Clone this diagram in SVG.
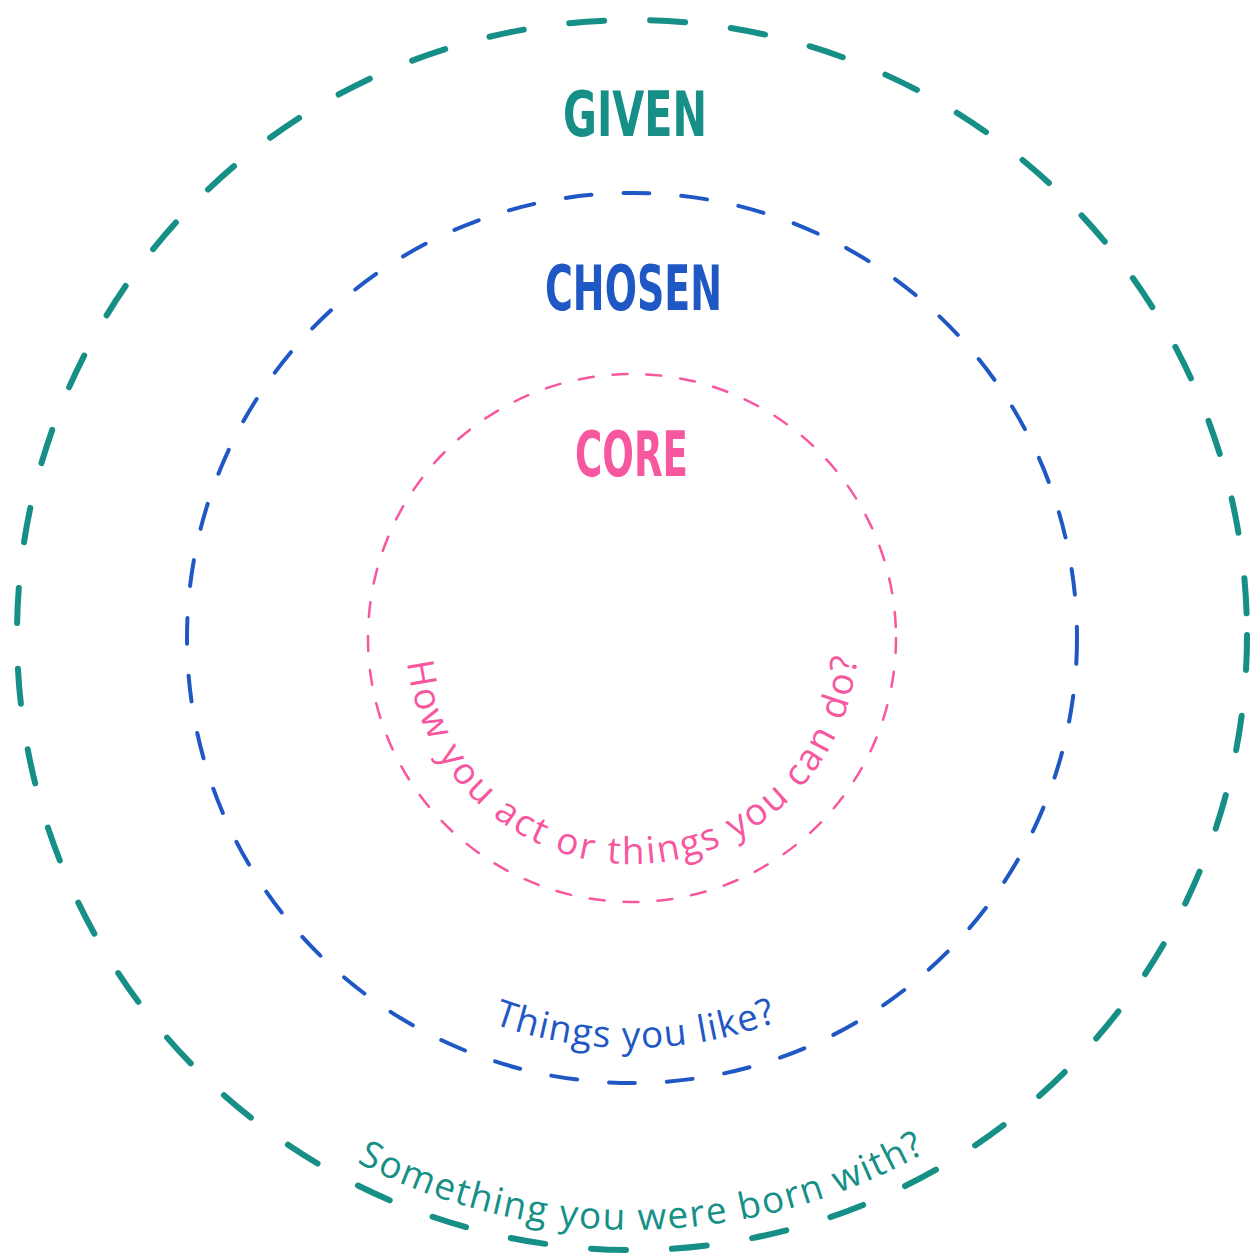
<svg xmlns="http://www.w3.org/2000/svg" width="1256" height="1254" viewBox="0 0 1256 1254">
  <style>
    .ring { fill: none; stroke-linecap: round; }
    .given { stroke: #168f87; stroke-width: 6; stroke-dasharray: 35 46; }
    .chosen { stroke: #1f58c4; stroke-width: 4; stroke-dasharray: 26 32; }
    .core { stroke: #f7579e; stroke-width: 2.5; stroke-dasharray: 15 19; }
    .title { font-family: "Liberation Sans Narrow", "DejaVu Sans Condensed", "Liberation Sans", sans-serif; font-weight: bold; font-size: 62px; }
    .label { font-family: "Open Sans", "Noto Sans", "Liberation Sans", sans-serif; font-size: 37px; letter-spacing: 1.3px; }
    .l-core { letter-spacing: 2.4px; }
    .l-given { letter-spacing: 1.7px; }
  </style>
  <defs>
    <path id="pGiven" d="M 37 635 A 595 595 0 0 0 1227 635"/>
    <path id="pChosen" d="M 222 638 A 410 410 0 0 0 1042 638"/>
    <path id="pCore" d="M 406 638 A 226 226 0 0 0 858 638"/>
  </defs>
  <rect width="1256" height="1254" fill="#ffffff"/>
  <g id="given">
    <circle class="ring given" cx="632" cy="635" r="615"/>
    <text class="title" x="563" y="136" fill="#168f87" textLength="144" lengthAdjust="spacingAndGlyphs">GIVEN</text>
    <text class="label l-given" fill="#168f87"><textPath href="#pGiven" startOffset="50.6%" text-anchor="middle">Something you were born with?</textPath></text>
  </g>
  <g id="chosen">
    <circle class="ring chosen" cx="632" cy="638" r="445"/>
    <text class="title" x="545" y="310" fill="#1f58c4" textLength="177" lengthAdjust="spacingAndGlyphs">CHOSEN</text>
    <text class="label" fill="#1f58c4"><textPath href="#pChosen" startOffset="50.3%" text-anchor="middle">Things you like?</textPath></text>
  </g>
  <g id="core">
    <circle class="ring core" cx="632" cy="638" r="264"/>
    <text class="title" x="575" y="476" fill="#f7579e" textLength="113" lengthAdjust="spacingAndGlyphs">CORE</text>
    <text class="label l-core" fill="#f7579e"><textPath href="#pCore" startOffset="50.5%" text-anchor="middle">How you act or things you can do?</textPath></text>
  </g>
  <g id="connectors"/>
</svg>
